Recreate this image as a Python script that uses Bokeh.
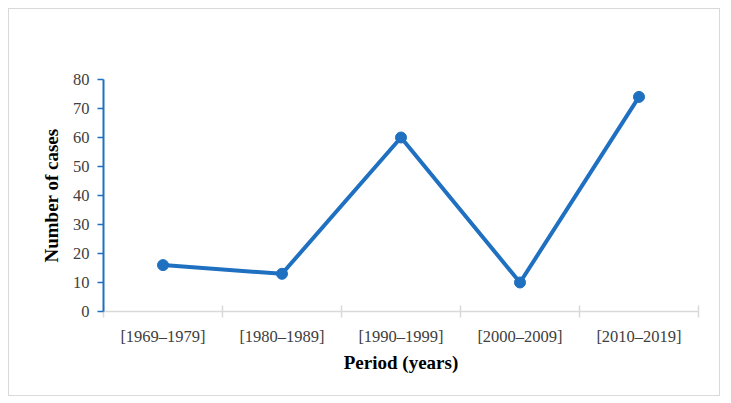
from bokeh.plotting import figure
from bokeh.models import Range1d, FixedTicker, LinearAxis
from bokeh.embed import file_html
from bokeh.resources import INLINE

periods = ["[1969–1979]", "[1980–1989]", "[1990–1999]", "[2000–2009]", "[2010–2019]"]
cases = [16, 13, 60, 10, 74]
y_ticks = [0, 10, 20, 30, 40, 50, 60, 70, 80]

BLUE = "#1f70c1"
FONT = "Liberation Serif"

xs = [i + 0.5 for i in range(len(periods))]

p = figure(width=712, height=388, output_backend="svg", toolbar_location=None,
           x_range=Range1d(0, len(periods)), y_range=Range1d(0, 80),
           min_border_left=94, min_border_right=23, min_border_top=70, min_border_bottom=86,
           x_axis_type=None, y_axis_type=None)
p.styles = {"border": "1px solid #d9d9d9", "box-sizing": "border-box", "margin": "8px"}
p.outline_line_color = None
p.grid.visible = False

xaxis = LinearAxis(ticker=FixedTicker(ticks=xs, minor_ticks=list(range(len(periods) + 1))),
                   major_label_overrides={x: lab for x, lab in zip(xs, periods)})
xaxis.axis_line_color = "#d9d9d9"
xaxis.axis_line_width = 1.5
xaxis.major_tick_line_color = None
xaxis.minor_tick_line_color = "#d9d9d9"
xaxis.minor_tick_line_width = 1.5
xaxis.minor_tick_in = 6
xaxis.minor_tick_out = 6
xaxis.major_label_text_font = FONT
xaxis.major_label_text_font_size = "16.5px"
xaxis.major_label_text_color = "#404040"
xaxis.major_label_standoff = 9
xaxis.axis_label = "Period (years)"
xaxis.axis_label_text_font = FONT
xaxis.axis_label_text_font_size = "19px"
xaxis.axis_label_text_font_style = "bold"
xaxis.axis_label_text_color = "#000000"
xaxis.axis_label_standoff = 3
p.add_layout(xaxis, "below")

yaxis = LinearAxis(ticker=FixedTicker(ticks=y_ticks))
yaxis.axis_line_color = BLUE
yaxis.axis_line_width = 2
yaxis.major_tick_line_color = BLUE
yaxis.major_tick_line_width = 1.5
yaxis.major_tick_in = 0
yaxis.major_tick_out = 6
yaxis.minor_tick_line_color = None
yaxis.major_label_text_font = FONT
yaxis.major_label_text_font_size = "16.5px"
yaxis.major_label_text_color = "#404040"
yaxis.major_label_standoff = 8
yaxis.axis_label = "Number of cases"
yaxis.axis_label_text_font = FONT
yaxis.axis_label_text_font_size = "19px"
yaxis.axis_label_text_font_style = "bold"
yaxis.axis_label_text_color = "#000000"
yaxis.axis_label_standoff = 8
p.add_layout(yaxis, "left")

p.line(xs, cases, line_color=BLUE, line_width=4)
p.scatter(xs, cases, size=11, fill_color=BLUE, line_color=BLUE)

open("out.html", "w").write(file_html(p, INLINE))
